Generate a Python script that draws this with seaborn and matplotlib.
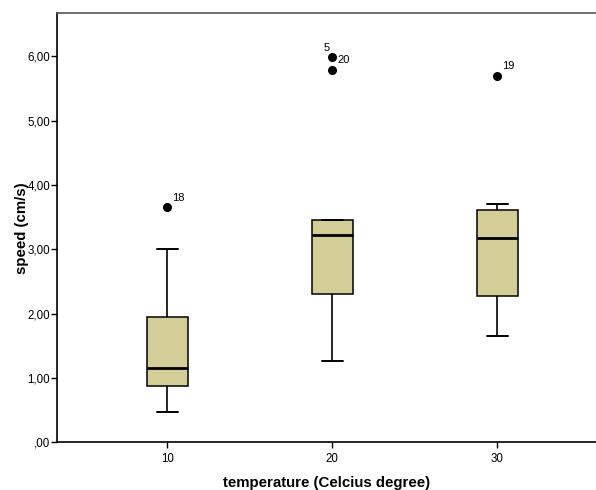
import pandas as pd
import numpy as np
import matplotlib.pyplot as plt
import seaborn as sns
from matplotlib.ticker import FuncFormatter

# Speed readings per temperature group
speed_10 = [0.48, 0.70, 0.88, 1.02, 1.15, 1.50, 1.95, 3.00, 3.65]
speed_20 = [1.27, 1.90, 2.30, 2.90, 3.22, 3.35, 3.46, 5.78, 5.99]
speed_30 = [1.66, 2.00, 2.28, 2.80, 3.17, 3.40, 3.61, 3.71, 5.69]
temperatures = ["10", "20", "30"]

# Outlier case labels
outlier_labels = ["18", "5", "20", "19"]
outlier_groups = ["10", "20", "20", "30"]
outlier_values = [3.65, 5.99, 5.99, 5.69]

df = pd.DataFrame({
    "temperature": ["10"] * len(speed_10) + ["20"] * len(speed_20) + ["30"] * len(speed_30),
    "speed": speed_10 + speed_20 + speed_30,
})

sns.set_style("white")
plt.rcParams['font.family'] = ['Liberation Sans', 'DejaVu Sans']
plt.rcParams['text.color'] = 'black'
plt.rcParams['axes.labelcolor'] = 'black'

fig = plt.figure(figsize=(5.96, 4.9), dpi=100)
ax = fig.add_axes([0.0956, 0.097, 0.905, 0.876])

sns.boxplot(
    data=df, x="temperature", y="speed", order=temperatures,
    color="#D3CE98", saturation=1, width=0.25, linecolor="black",
    linewidth=1.1, fliersize=5.5,
    flierprops=dict(marker="o", markerfacecolor="black", markeredgecolor="black"),
    medianprops=dict(linewidth=2.0, color="black"),
    whiskerprops=dict(linewidth=1.2),
    capprops=dict(linewidth=1.4),
    ax=ax,
)

# Case-number labels next to the outliers
offsets = {"18": (8, 7), "5": (-4, 6.5), "20": (8, -2), "19": (8, 7)}
for lab, grp, val in zip(outlier_labels, outlier_groups, outlier_values):
    ax.annotate(lab, (temperatures.index(grp), val), xytext=offsets[lab],
                textcoords="offset points", ha="center", va="center", fontsize=8)


def comma_fmt(v, p):
    s = ("%.2f" % v).replace(".", ",")
    return s.lstrip("0") if v == 0 else s


ax.set_xlim(-0.669, 2.60)
ax.set_ylim(0, 6.667)
ax.set_yticks(np.arange(0, 7, 1))
ax.yaxis.set_major_formatter(FuncFormatter(comma_fmt))
ax.tick_params(axis="both", which="both", direction="out", length=4, width=1,
               labelsize=8.3, colors="black", left=True, bottom=True)
ax.tick_params(axis="y", pad=1)

for s in ["left", "bottom"]:
    ax.spines[s].set_color("black")
    ax.spines[s].set_linewidth(1.2)
ax.spines["top"].set_color("#555555")
ax.spines["top"].set_linewidth(1.2)
ax.spines["right"].set_visible(False)

ax.set_xlabel("temperature (Celcius degree)", fontsize=10.8, fontweight="bold", labelpad=8)
ax.set_ylabel("speed (cm/s)", fontsize=10.8, fontweight="bold", labelpad=-1.5)

plt.savefig("out.png", dpi=100)
